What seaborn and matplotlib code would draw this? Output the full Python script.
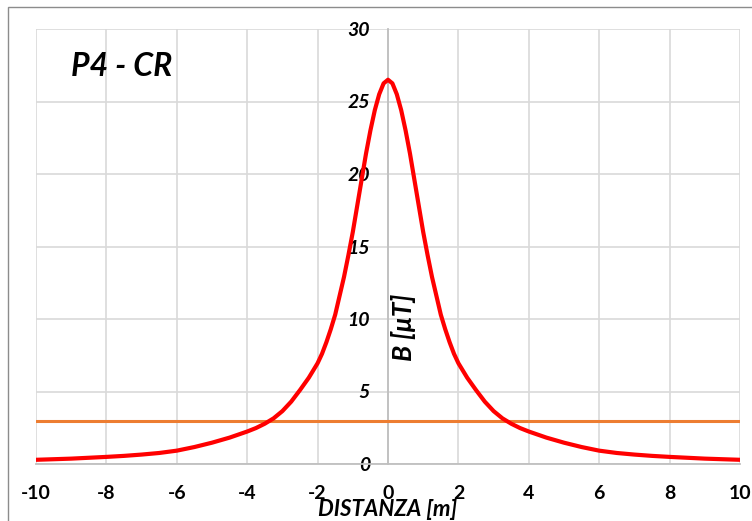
import matplotlib
matplotlib.use("Agg")
import matplotlib.pyplot as plt
import matplotlib.patches as mpatches
import seaborn as sns
import pandas as pd

# ---- data ----
dist_m = [-10, -9.5, -9, -8.5, -8, -7.5, -7, -6.5, -6, -5.5, -5, -4.5, -4, -3.75, -3.5, -3.25,
          -3, -2.75, -2.5, -2.25, -2, -1.875, -1.75, -1.625, -1.5, -1.375, -1.25, -1.125,
          -1, -0.875, -0.75, -0.625, -0.5, -0.375, -0.25, -0.125,
          0,
          0.125, 0.25, 0.375, 0.5, 0.625, 0.75, 0.875, 1,
          1.125, 1.25, 1.375, 1.5, 1.625, 1.75, 1.875, 2, 2.25, 2.5, 2.75, 3,
          3.25, 3.5, 3.75, 4, 4.5, 5, 5.5, 6, 6.5, 7, 7.5, 8, 8.5, 9, 9.5, 10]
b_uT = [0.29, 0.33, 0.37, 0.43, 0.49, 0.56, 0.65, 0.76, 0.92, 1.17, 1.47, 1.82, 2.24, 2.48, 2.78, 3.15,
        3.65, 4.3, 5.1, 5.95, 6.95, 7.6, 8.4, 9.3, 10.3, 11.6, 12.9, 14.4,
        16.0, 17.8, 19.6, 21.4, 23.0, 24.4, 25.5, 26.25,
        26.5,
        26.25, 25.5, 24.4, 23.0, 21.4, 19.6, 17.8, 16.0,
        14.4, 12.9, 11.6, 10.3, 9.3, 8.4, 7.6, 6.95, 5.95, 5.1, 4.3, 3.65,
        3.15, 2.78, 2.48, 2.24, 1.82, 1.47, 1.17, 0.92, 0.76, 0.65, 0.56, 0.49, 0.43, 0.37, 0.33, 0.29]
limit_x = [-10, 10]
limit_y = [3, 3]
x_ticks = [-10, -8, -6, -4, -2, 0, 2, 4, 6, 8, 10]
y_ticks = [0, 5, 10, 15, 20, 25, 30]
title = "P4 - CR"
x_label = "DISTANZA [m]"
y_label = "B [μT]"

sns.set_theme(style="white")
plt.rcParams["font.family"] = ["Lato", "DejaVu Sans"]

fig = plt.figure(figsize=(7.52, 5.21), dpi=100)
ax = fig.add_axes([36 / 752, 1 - 464 / 521, 704 / 752, 435 / 521])

df_curve = pd.DataFrame({"x": dist_m, "y": b_uT})
df_lim = pd.DataFrame({"x": limit_x, "y": limit_y})

sns.lineplot(data=df_lim, x="x", y="y", ax=ax, color="#ed7d31", linewidth=2.2, zorder=3)
sns.lineplot(data=df_curve, x="x", y="y", ax=ax, color="#ff0000", linewidth=3.0, zorder=4,
             sort=False)

# spines first (repositioning resets tick label styling)
for s in ["top", "right"]:
    ax.spines[s].set_visible(False)
ax.spines["left"].set_position(("data", 0))
ax.spines["left"].set_color("#bfbfbf")
ax.spines["left"].set_linewidth(1.3)
ax.spines["left"].set_zorder(2)
ax.spines["bottom"].set_color("#bfbfbf")
ax.spines["bottom"].set_linewidth(1.3)

ax.set_xlim(-10, 10)
ax.set_ylim(0, 30)
ax.set_xticks(x_ticks)
ax.set_yticks(y_ticks)
ax.tick_params(axis="y", length=0, pad=13)
ax.tick_params(axis="x", length=0, pad=15)
ax.set_xticklabels([str(t) for t in x_ticks])
ax.set_yticklabels([str(t) for t in y_ticks])

ax.grid(True, color="#d9d9d9", linewidth=1.2)
ax.set_axisbelow(True)

ax.set_xlabel("")
ax.set_ylabel("")
fig.text(388 / 752, 1 - 509 / 521, x_label, ha="center", va="center",
         fontsize=16, fontweight="bold", fontstyle="italic", color="#000000")
fig.text(404 / 752, 1 - 327 / 521, y_label, ha="center", va="center", rotation=90,
         fontsize=19, fontweight="bold", fontstyle="italic", color="#000000")

ax.text(0.122, 0.913, title, transform=ax.transAxes, ha="center", va="center",
        fontsize=23, fontweight="bold", fontstyle="italic", color="#000000")

# outer chart border (partially visible in reference)
fig.patches.append(mpatches.Rectangle((8 / 752, -0.1), 2.0, 1 - 7 / 521 + 0.1,
                                      transform=fig.transFigure, fill=False,
                                      edgecolor="#8c8c8c", linewidth=1.0))

fig.canvas.draw()
for lab in ax.get_xticklabels():
    lab.set_fontsize(14)
    lab.set_fontweight("bold")
    lab.set_color("#000000")
for lab in ax.get_yticklabels():
    lab.set_fontsize(14)
    lab.set_fontweight("bold")
    lab.set_fontstyle("italic")
    lab.set_color("#000000")

fig.savefig("out.png", dpi=100)
